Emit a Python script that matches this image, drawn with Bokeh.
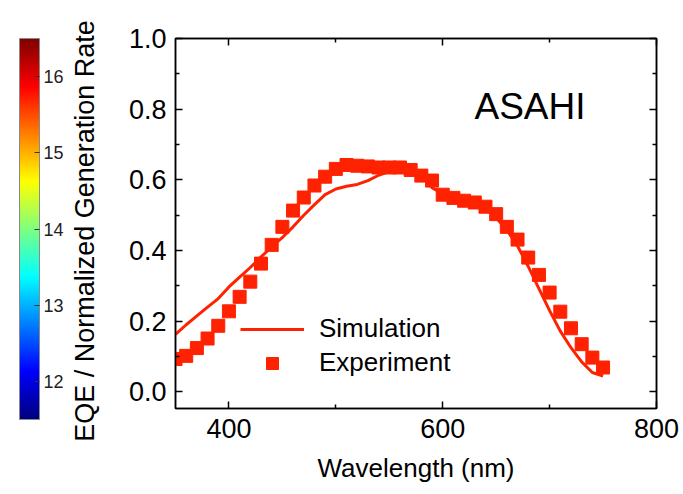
import numpy as np
from bokeh.plotting import figure
from bokeh.models import (Range1d, LinearAxis, FixedTicker, Label, Legend,
                          LegendItem, LinearColorMapper, ColorBar,
                          PrintfTickFormatter, CustomJSTickFormatter)
from bokeh.layouts import row
from bokeh.embed import file_html
from bokeh.resources import INLINE

# ---------------- data ----------------
wavelength_exp = [350, 360, 370, 380, 390, 400, 410, 420, 430, 440, 450, 460, 470,
                  480, 490, 500, 510, 520, 530, 540, 550, 560, 570, 580, 590, 600,
                  610, 620, 630, 640, 650, 660, 670, 680, 690, 700, 710, 720, 730,
                  740, 750]
eqe_exp = [0.093, 0.102, 0.124, 0.151, 0.187, 0.228, 0.269, 0.312, 0.363, 0.416,
           0.467, 0.513, 0.550, 0.584, 0.609, 0.631, 0.642, 0.640, 0.638, 0.635,
           0.635, 0.635, 0.628, 0.612, 0.598, 0.558, 0.549, 0.541, 0.536, 0.524,
           0.503, 0.467, 0.431, 0.380, 0.331, 0.281, 0.227, 0.180, 0.135, 0.097,
           0.069]

wavelength_sim = [350, 360, 370, 380, 390, 400, 410, 420, 430, 440, 450, 460, 470,
                  480, 490, 500, 510, 520, 530, 540, 550, 560, 570, 580, 590, 600,
                  610, 620, 630, 640, 650, 660, 670, 680, 690, 700, 710, 720, 730,
                  740, 750]
eqe_sim = [0.163, 0.190, 0.215, 0.240, 0.264, 0.297, 0.325, 0.352, 0.382, 0.410,
           0.437, 0.467, 0.500, 0.530, 0.558, 0.574, 0.582, 0.587, 0.598, 0.613,
           0.624, 0.630, 0.632, 0.620, 0.578, 0.560, 0.545, 0.537, 0.530, 0.517,
           0.493, 0.458, 0.413, 0.355, 0.292, 0.230, 0.172, 0.125, 0.085, 0.055,
           0.045]

x_ticks = [400, 600, 800]
x_minor = [500, 700]
y_ticks = [0.0, 0.2, 0.4, 0.6, 0.8, 1.0]
y_minor = [0.1, 0.3, 0.5, 0.7, 0.9]
cb_ticks = [12, 13, 14, 15, 16]
cb_low, cb_high = 11.5, 16.5

RED = "#ff2200"
FONT = "Liberation Sans"


def jet(n):
    cols = []
    for i in range(n):
        t = i / (n - 1)
        r = min(max(1.5 - abs(4 * t - 3), 0), 1)
        g = min(max(1.5 - abs(4 * t - 2), 0), 1)
        b = min(max(1.5 - abs(4 * t - 1), 0), 1)
        cols.append("#%02x%02x%02x" % (int(r * 255), int(g * 255), int(b * 255)))
    return cols


# ---------------- colour-bar holder (left strip) ----------------
cbfig = figure(width=66, height=494, x_range=Range1d(0, 1), y_range=Range1d(0, 1),
               output_backend="svg", toolbar_location=None,
               x_axis_location=None, y_axis_location=None,
               min_border_left=0, min_border_right=46,
               min_border_top=38, min_border_bottom=86)
cbfig.grid.visible = False
cbfig.outline_line_color = None

mapper = LinearColorMapper(palette=jet(256), low=cb_low, high=cb_high)
cbar = ColorBar(color_mapper=mapper, ticker=FixedTicker(ticks=cb_ticks),
                width=20, height=381, padding=0, margin=0,
                location="top_left",
                major_tick_in=5, major_tick_out=0,
                major_tick_line_color="#333333",
                minor_tick_line_color=None,
                label_standoff=4,
                major_label_text_font=FONT,
                major_label_text_font_size="18px",
                major_label_text_color="#222222",
                bar_line_color="#8a8a8a", bar_line_width=1,
                border_line_color=None, background_fill_alpha=0)
cbfig.add_layout(cbar, "right")

# ---------------- main figure ----------------
p = figure(width=617, height=494, x_range=Range1d(350, 800),
           y_range=Range1d(-0.047, 1.0), output_backend="svg",
           toolbar_location=None, min_border_left=109, min_border_right=27,
           min_border_top=38, min_border_bottom=86)
p.grid.visible = False
p.outline_line_color = "black"
p.outline_line_width = 1.5

r_line = p.line(wavelength_sim, eqe_sim, line_color=RED, line_width=3)
r_sc = p.scatter(wavelength_exp, eqe_exp, marker="square", size=13,
                 fill_color=RED, line_color=RED)

xt = FixedTicker(ticks=x_ticks, minor_ticks=x_minor)
yt = FixedTicker(ticks=y_ticks, minor_ticks=y_minor)

for ax in p.xaxis:
    ax.ticker = xt
for ax in p.yaxis:
    ax.ticker = yt

common = dict(major_tick_in=7, major_tick_out=0, minor_tick_in=4, minor_tick_out=0,
              axis_line_width=1.5, major_tick_line_width=1.5,
              minor_tick_line_width=1.5, axis_line_color="black",
              major_tick_line_color="black", minor_tick_line_color="black")

p.xaxis.update(**common)
p.yaxis.update(**common)
p.xaxis.major_label_text_font = FONT
p.xaxis.major_label_text_font_size = "27px"
p.xaxis.major_label_text_color = "black"
p.xaxis.major_label_standoff = 10
p.xaxis.axis_label = "Wavelength (nm)"
p.xaxis.axis_label_text_font = FONT
p.xaxis.axis_label_text_font_size = "26px"
p.xaxis.axis_label_text_font_style = "normal"
p.xaxis.axis_label_text_color = "black"
p.xaxis.axis_label_standoff = 12

p.yaxis.formatter = PrintfTickFormatter(format="%.1f")
p.yaxis.major_label_text_font = FONT
p.yaxis.major_label_text_font_size = "27px"
p.yaxis.major_label_text_color = "black"
p.yaxis.major_label_standoff = 9
# the colour-bar title sits left of the y tick labels (trailing no-break
# spaces nudge the visible text down a little, as in the reference)
p.yaxis.axis_label = "EQE / Normalized Generation Rate" + "\u00a0" * 2
p.yaxis.axis_label_text_font = FONT
p.yaxis.axis_label_text_font_size = "27px"
p.yaxis.axis_label_text_font_style = "normal"
p.yaxis.axis_label_text_color = "black"
p.yaxis.axis_label_standoff = 26

blank = CustomJSTickFormatter(code="return ''")
top_ax = LinearAxis(ticker=xt, formatter=blank, **common)
right_ax = LinearAxis(ticker=yt, formatter=blank, **common)
p.add_layout(top_ax, "above")
p.add_layout(right_ax, "right")

legend = Legend(items=[LegendItem(label="Simulation", renderers=[r_line]),
                       LegendItem(label="Experiment", renderers=[r_sc])],
                location=(65, 30), glyph_width=64, glyph_height=30,
                label_standoff=15, spacing=3, padding=0, margin=0,
                label_text_font=FONT, label_text_font_size="26px",
                label_text_color="black", background_fill_alpha=0,
                border_line_alpha=0)
p.add_layout(legend, "center")

p.add_layout(Label(x=299, y=302, x_units="screen", y_units="screen",
                   text="ASAHI", text_font=FONT, text_font_size="37px",
                   text_color="black", text_baseline="alphabetic"))

layout = row(cbfig, p)
open("out.html", "w").write(file_html(layout, INLINE))
